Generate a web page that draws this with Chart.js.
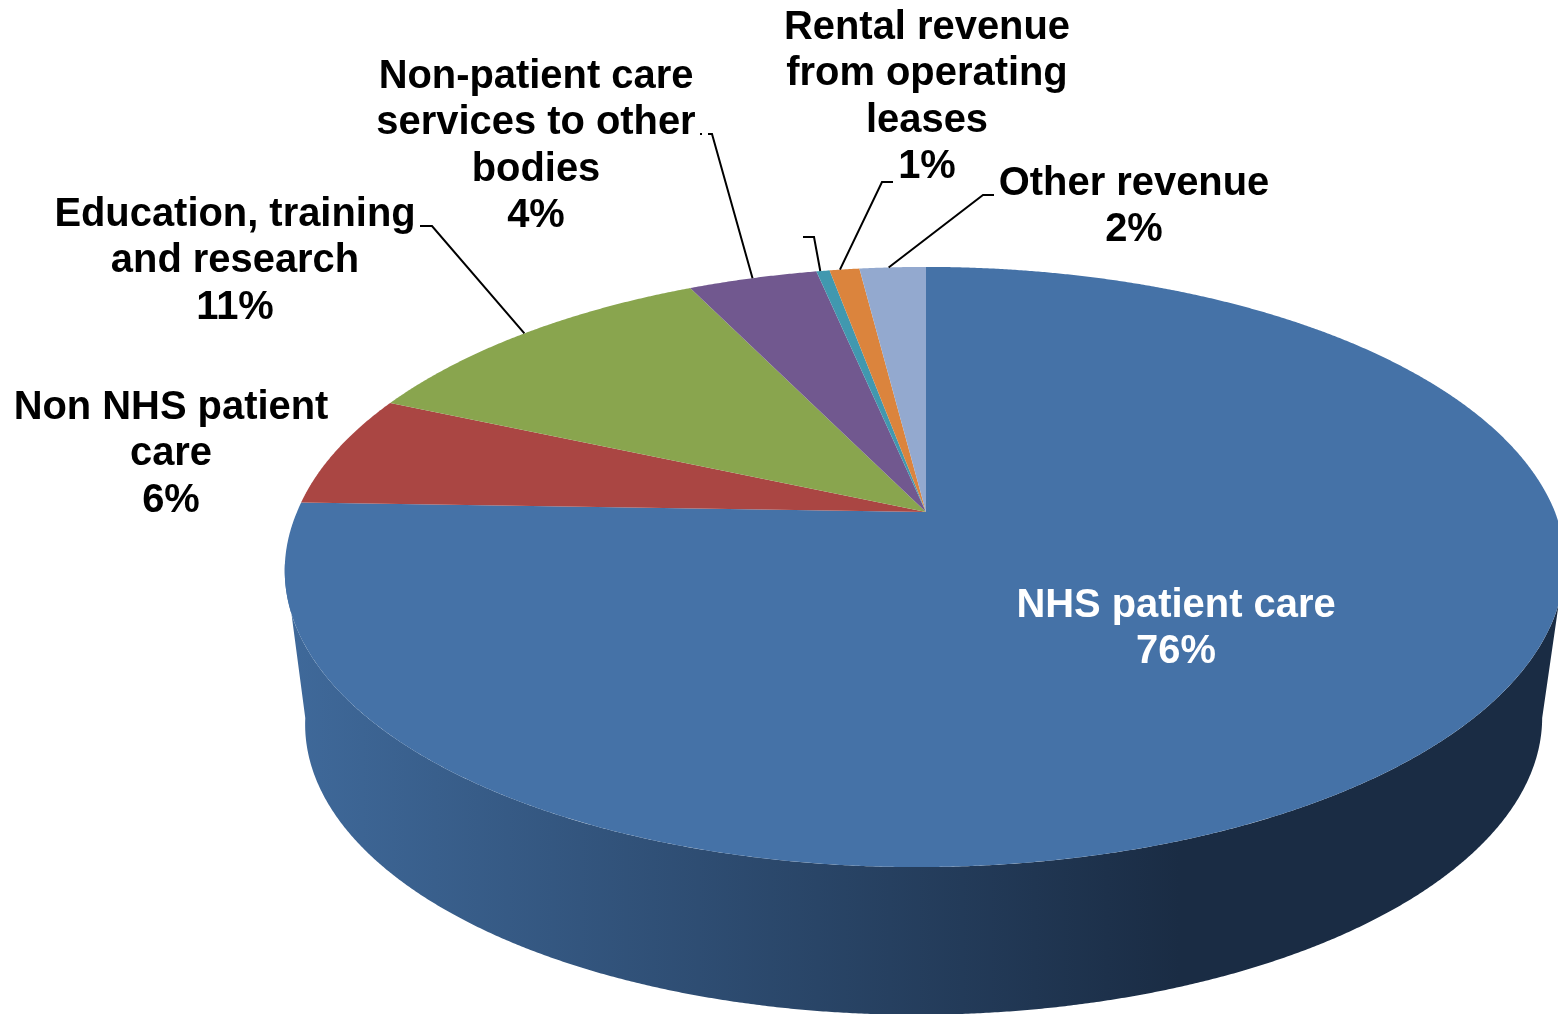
<!DOCTYPE html>
<html>
<head>
<meta charset="utf-8">
<title>Revenue</title>
<script src="https://cdn.jsdelivr.net/npm/chart.js@4"></script>
<style>
  html, body { margin: 0; padding: 0; background: #fff; }
  canvas { display: block; }
</style>
</head>
<body>
<canvas id="pie" width="1558" height="1014"></canvas>
<script>
// values (the rounded percentages are printed on the labels)
const categories = ["NHS patient care", "Non NHS patient care", "Education, training and research",
  "Non-patient care services to other bodies", "", "Rental revenue from operating leases", "Other revenue"];
const values = [75.6, 6.1, 11.2, 3.9, 0.4, 0.9, 2.0];
const colors = ["#4572A7", "#AA4643", "#89A54E", "#71588F", "#4198AF", "#DB843D", "#93A9CF"];

// how the names wrap on the chart
const labelLines = [
  ["NHS patient care"],
  ["Non NHS patient", "care"],
  ["Education, training", "and research"],
  ["Non-patient care", "services to other", "bodies"],
  [],
  ["Rental revenue", "from operating", "leases"],
  ["Other revenue"]
];
// centre x and first baseline of each label, the elbow of its leader line,
// and how far along the slice the leader lands
const labelPos = [
  { x: 1176, y: 617, color: "#fff" },
  { x: 171, y: 419 },
  { x: 235, y: 226, leader: [[420, 226], [432, 226]], along: 0.5 },
  { x: 536, y: 88, leader: [[708, 134], [712, 134]], along: 0.5, stub: [[700, 134], [702, 134]] },
  { leader: [[803, 237], [814, 237]], along: 0.3 },
  { x: 927, y: 39, leader: [[893, 182], [882, 182]], along: 0.35 },
  { x: 1134, y: 195, leader: [[994, 195], [983, 195]], along: 0.44 }
];

// perspective of the tilted disc
const top3d = { x: 926, y: 512, depth: 290, width: 629, gamma: 0.1833 };
const bottom3d = { x: 925, y: 667, depth: 284, width: 608, gamma: 0.1833 };

function project(view, angle) {
  // angle is what Chart.js stores on the arc, -PI/2 is twelve o'clock
  const X = Math.cos(angle), Z = Math.sin(angle);
  const s = 1 - view.gamma * Z;
  const yy = view.depth * Z / s;
  return [view.x + view.width * X / s - 0.025 * Math.max(0, yy), view.y + yy];
}

function rim(ctx, view, from, to) {
  const steps = Math.max(2, Math.ceil(Math.abs(to - from) / 0.004));
  for (let i = 0; i <= steps; i++) {
    const p = project(view, from + (to - from) * i / steps);
    ctx.lineTo(p[0], p[1]);
  }
}

const disc3d = {
  id: "disc3d",
  beforeDatasetDraw(chart, args) {
    const ctx = chart.ctx;
    const arcs = args.meta.data;
    const wallFrom = (100 - 90) * Math.PI / 180;
    const wallTo = (260 - 90) * Math.PI / 180;

    ctx.save();

    // side wall, only the front part of the rim shows
    const shade = ctx.createLinearGradient(290, 0, 1180, 0);
    shade.addColorStop(0, "#3f699a");
    shade.addColorStop(1, "#1a2c44");
    arcs.forEach((arc) => {
      const from = Math.max(arc.startAngle, wallFrom);
      const to = Math.min(arc.endAngle, wallTo);
      if (to <= from) return;
      ctx.beginPath();
      rim(ctx, top3d, from, to);
      rim(ctx, bottom3d, to, from);
      ctx.closePath();
      ctx.fillStyle = shade;
      ctx.fill();
    });

    // top face
    arcs.forEach((arc) => {
      ctx.beginPath();
      ctx.moveTo(top3d.x, top3d.y);
      rim(ctx, top3d, arc.startAngle, arc.endAngle);
      ctx.closePath();
      ctx.fillStyle = arc.options.backgroundColor;
      ctx.fill();
    });

    // leader lines end on the rim of their slice
    ctx.strokeStyle = "#000";
    ctx.lineWidth = 2;
    arcs.forEach((arc, i) => {
      const pos = labelPos[i];
      if (!pos.leader) return;
      const end = project(top3d, arc.startAngle + (arc.endAngle - arc.startAngle) * pos.along);
      ctx.beginPath();
      ctx.moveTo(pos.leader[0][0], pos.leader[0][1]);
      ctx.lineTo(pos.leader[1][0], pos.leader[1][1]);
      ctx.lineTo(end[0], end[1]);
      if (pos.stub) {
        ctx.moveTo(pos.stub[0][0], pos.stub[0][1]);
        ctx.lineTo(pos.stub[1][0], pos.stub[1][1]);
      }
      ctx.stroke();
    });

    // labels
    const total = values.reduce((a, b) => a + b, 0);
    ctx.font = "bold 39.9px 'Liberation Sans', Arial, sans-serif";
    ctx.textAlign = "center";
    ctx.textBaseline = "alphabetic";
    labelLines.forEach((lines, i) => {
      if (!lines.length) return;
      const pos = labelPos[i];
      ctx.fillStyle = pos.color || "#000";
      lines.concat(Math.round(values[i] / total * 100) + "%").forEach((line, n) => {
        ctx.fillText(line, pos.x, pos.y + n * 46.3);
      });
    });

    ctx.restore();
    return false;
  }
};

new Chart(document.querySelector("#pie"), {
  type: "pie",
  data: {
    labels: categories,
    datasets: [{ data: values, backgroundColor: colors, borderWidth: 0 }]
  },
  options: {
    responsive: false,
    animation: false,
    plugins: { legend: { display: false }, tooltip: { enabled: false } }
  },
  plugins: [disc3d]
});
</script>
</body>
</html>
